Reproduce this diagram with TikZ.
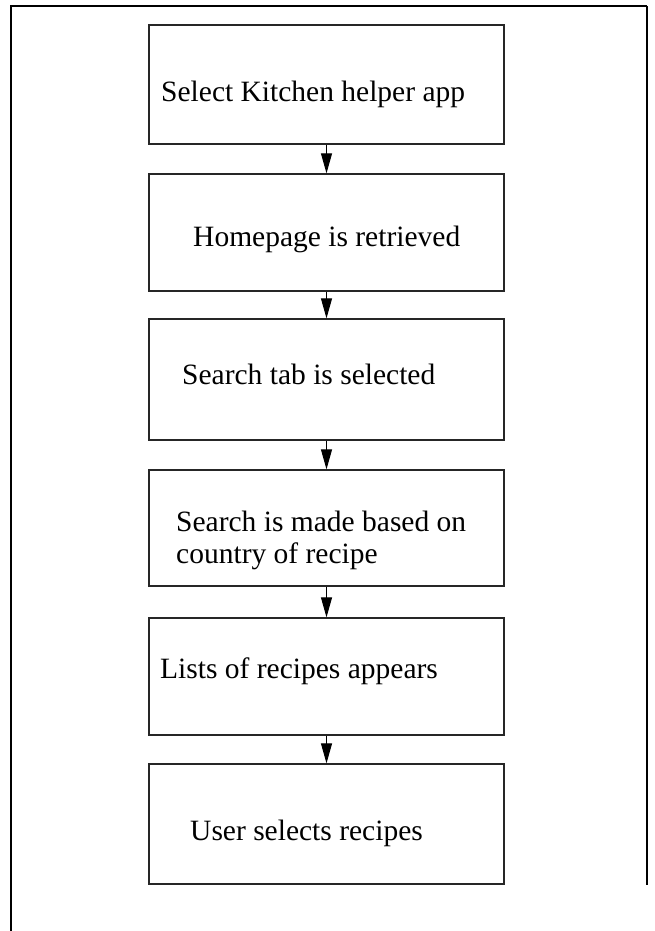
\documentclass[tikz,border=0pt]{standalone}
\usepackage{fontspec}
\setmainfont{Liberation Serif}
\usetikzlibrary{arrows.meta}
\begin{document}
\begin{tikzpicture}[x=1pt,y=-1pt,
  stepbox/.style={draw=black!85,line width=1.3pt,minimum width=355pt,inner sep=0pt,fill=none},
  lbl/.style={anchor=base west,inner sep=0pt,font=\fontsize{29.5}{32}\selectfont,align=left},
  arr/.style={draw=black,line width=1pt,-{Triangle[length=20pt,width=11pt]}},
  frame/.style={draw=black,line width=2.4pt}]
\useasboundingbox (0,0) rectangle (655,931);
% outer frame
\coordinate (fbl) at (11,931);
\coordinate (ftl) at (11,6);
\coordinate (ftr) at (647,6);
\coordinate (fbr) at (647,885);
\draw[frame] (fbl) -- (ftl) -- (ftr);
\draw[draw=black,line width=1.2pt] (ftr) -- (fbr);
% boxes
\node[stepbox,minimum height=119pt] (b1) at (326.5,84.5) {};
\node[stepbox,minimum height=117pt] (b2) at (326.5,232.5) {};
\node[stepbox,minimum height=121pt] (b3) at (326.5,379.5) {};
\node[stepbox,minimum height=116pt] (b4) at (326.5,528) {};
\node[stepbox,minimum height=117pt] (b5) at (326.5,676.5) {};
\node[stepbox,minimum height=120pt] (b6) at (326.5,824) {};
% labels
\node[lbl] (t1) at (161,102) {Select Kitchen helper app};
\node[lbl] (t2) at (193,246) {Homepage is retrieved};
\node[lbl] (t3) at (182,384) {Search tab is selected};
\node[lbl] (t4) at (176,563) {Search is made based on\\country of recipe};
\node[lbl] (t5) at (160,678) {Lists of recipes appears};
\node[lbl] (t6) at (190,840) {User selects recipes};
% arrows
\draw[arr] (b1.south) -- (b2.north);
\draw[arr] (b2.south) -- (b3.north);
\draw[arr] (b3.south) -- (b4.north);
\draw[arr] (b4.south) -- (b5.north);
\draw[arr] (b5.south) -- (b6.north);
\end{tikzpicture}
\end{document}
